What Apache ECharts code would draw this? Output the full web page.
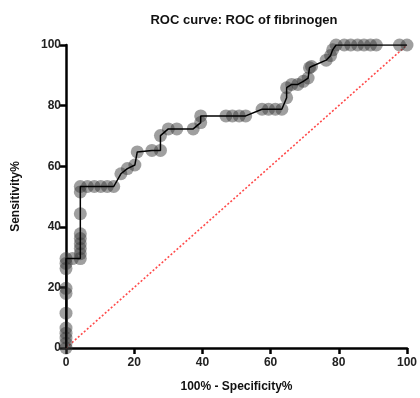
<!DOCTYPE html>
<html>
<head>
<meta charset="utf-8">
<script src="https://cdn.jsdelivr.net/npm/echarts@6/dist/echarts.min.js"></script>
<style>
  html, body { margin: 0; padding: 0; background: #fff; }
  #chart { width: 420px; height: 398px; }
</style>
</head>
<body>
<div id="chart"></div>
<script>
// 100% - specificity (x) and sensitivity (y)
const rocX = [0, 0, 0, 0, 0, 0, 0, 0, 0, 0, 0, 1.9, 4.2, 4.2, 4.2, 4.2, 4.2, 4.2, 4.2, 4.2, 4.2,
  6.3, 8.3, 10.2, 12.1, 14.0, 16.1, 18.0, 20.2, 20.9, 25.2, 27.7, 27.7, 30.0, 32.5, 37.3, 39.5, 39.5,
  46.9, 48.8, 50.8, 52.7, 57.5, 59.4, 61.4, 63.3, 64.7, 64.7, 66.2, 68.0, 69.6, 71.0, 71.4, 72.0,
  76.3, 77.6, 78.2, 79.2, 81.6, 83.5, 85.5, 87.4, 89.3, 91.0, 97.8, 100];
const rocY = [0, 1.6, 3.3, 4.9, 6.6, 11.5, 18.0, 19.7, 26.2, 27.9, 29.5, 29.5, 29.5, 31.1, 32.8, 34.4, 36.1, 37.7, 44.3, 51.5, 53.3,
  53.3, 53.3, 53.3, 53.3, 53.3, 57.5, 59.2, 60.4, 64.7, 65.2, 65.2, 70.1, 72.3, 72.3, 72.3, 74.4, 76.6,
  76.6, 76.6, 76.6, 76.6, 78.8, 78.8, 78.8, 78.8, 82.6, 85.9, 87.0, 87.0, 88.0, 89.1, 92.5, 92.9,
  95.0, 96.5, 98.4, 100, 100, 100, 100, 100, 100, 100, 100, 100];
const refLine = [[0, 0], [100, 100]];
const axisTicks = [0, 20, 40, 60, 80, 100];

const points = rocX.map((x, i) => [x, rocY[i]]);
const font = "Liberation Sans, Arial, sans-serif";

const chart = echarts.init(document.getElementById("chart"));
chart.setOption({
  animation: false,
  title: {
    text: "ROC curve: ROC of fibrinogen",
    left: 239,
    top: 9,
    textAlign: "center",
    textStyle: { fontFamily: font, fontSize: 13, fontWeight: "bold", color: "#111" },
  },
  grid: { left: 66, right: 8, top: 45, bottom: 46 },
  xAxis: {
    type: "value",
    min: axisTicks[0],
    max: axisTicks[axisTicks.length - 1],
    interval: 20,
    name: "100% - Specificity%",
    nameLocation: "middle",
    nameGap: 33,
    nameTextStyle: { fontFamily: font, fontSize: 12, fontWeight: "bold", color: "#111" },
    axisLine: { lineStyle: { color: "#000", width: 2.5 } },
    axisTick: { show: true, length: 6, lineStyle: { color: "#000", width: 2.5 } },
    axisLabel: { fontFamily: font, fontSize: 12, fontWeight: "bold", color: "#222", margin: 9 },
    splitLine: { show: false },
  },
  yAxis: {
    type: "value",
    min: axisTicks[0],
    max: axisTicks[axisTicks.length - 1],
    interval: 20,
    name: "Sensitivity%",
    nameLocation: "middle",
    nameGap: 44,
    nameTextStyle: { fontFamily: font, fontSize: 12, fontWeight: "bold", color: "#111" },
    axisLine: { lineStyle: { color: "#000", width: 2.5 } },
    axisTick: { show: true, length: 6, lineStyle: { color: "#000", width: 2.5 } },
    axisLabel: { fontFamily: font, fontSize: 12, fontWeight: "bold", color: "#222", margin: 5 },
    splitLine: { show: false },
  },
  series: [
    {
      // reference diagonal
      type: "line",
      data: refLine,
      symbol: "none",
      lineStyle: { color: "#ff4a4a", width: 1.6, type: [2, 2] },
      z: 1,
    },
    {
      type: "scatter",
      data: points,
      symbolSize: 13,
      clip: false,
      itemStyle: { color: "rgba(55,55,55,0.6)" },
      z: 2,
    },
    {
      type: "line",
      data: points,
      symbol: "none",
      lineStyle: { color: "#000", width: 1.5 },
      z: 3,
    },
  ],
});
</script>
</body>
</html>
